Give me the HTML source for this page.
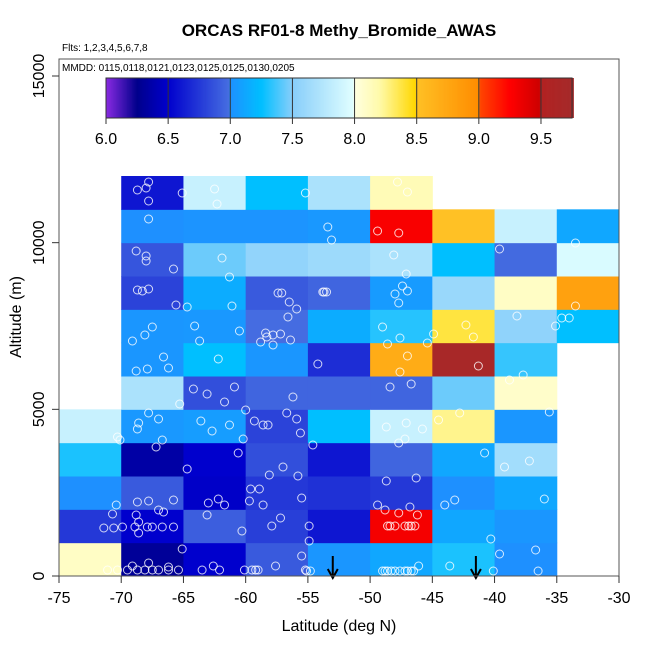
<!DOCTYPE html>
<html><head><meta charset="utf-8"><style>
body{margin:0;background:#fff}
svg{display:block;font-family:"Liberation Sans",sans-serif}
</style></head><body>
<svg id="chart" width="650" height="650" viewBox="0 0 650 650" xmlns="http://www.w3.org/2000/svg">
<text x="339" y="36" text-anchor="middle" font-size="17" font-weight="bold">ORCAS RF01-8 Methy_Bromide_AWAS</text>
<text x="62" y="51" font-size="10">Flts: 1,2,3,4,5,6,7,8</text>
<text x="62" y="71" font-size="10">MMDD: 0115,0118,0121,0123,0125,0125,0130,0205</text>
<g id="cells"></g><g id="pts"></g><g id="cbar"></g><g id="axes"></g>
<text x="339" y="631" text-anchor="middle" font-size="16">Latitude (deg N)</text>
<text transform="translate(21,317) rotate(-90)" text-anchor="middle" font-size="16">Altitude (m)</text>
</svg>
<script>
const latBins=[-75,-70,-65,-60,-55,-50,-45,-40,-35];
const altBins=[0,1000,2000,3000,4000,5000,6000,7000,8000,9000,10000,11000];
// values per latitude column, rows from 0 m upward (null = no data)
const col0=[8.1,6.75,7.0,7.3,7.85,null,null,null,null,null,null,null];
const col1=[6.3,6.5,6.9,6.35,7.04,7.7,7.03,7.03,6.8,6.88,7.0,6.6];
const col2=[6.5,6.92,6.48,6.5,7.07,6.85,7.25,7.04,7.15,7.45,7.02,7.85];
const col3=[6.9,6.78,6.75,6.85,6.8,6.95,7.03,6.98,6.9,7.56,7.02,7.25];
const col4=[7.03,6.6,6.72,6.6,7.25,6.95,6.7,7.15,6.95,7.62,7.04,7.7];
const col5=[7.12,9.3,6.75,6.95,7.85,6.95,8.7,7.32,7.06,7.7,9.28,8.15];
const col6=[7.3,7.12,7.0,7.12,8.25,7.45,9.7,8.38,7.6,7.25,8.5,null];
const col7=[7.0,7.03,7.12,7.65,7.03,8.08,7.35,7.55,8.1,6.97,7.85,null];
const col8=[null,null,null,null,null,null,null,7.25,8.8,7.95,7.12,null];
const cols=[col0,col1,col2,col3,col4,col5,col6,col7,col8];
const ptLat=[-68.7,-68.0,-67.8,-67.8,-65.1,-62.5,-62.3,-55.2,-67.8,-53.4,-53.1,-68.8,-68.0,-68.0,-65.8,-61.9,-61.3,-68.7,-68.3,-67.8,-65.6,-64.7,-61.1,-57.4,-57.1,-56.5,-55.9,-56.6,-53.8,-53.5,-67.5,-68.1,-69.1,-64.1,-63.7,-60.5,-58.4,-58.3,-58.8,-57.8,-57.2,-56.4,-57.8,-66.6,-66.2,-67.9,-68.8,-62.2,-54.2,-64.2,-63.1,-60.9,-61.7,-56.2,-65.3,-60.0,-67.8,-68.6,-68.7,-67.0,-63.6,-62.7,-61.3,-60.2,-56.7,-55.9,-59.3,-58.6,-58.2,-55.6,-70.3,-70.1,-66.7,-67.2,-60.6,-54.6,-64.7,-57.0,-58.1,-55.8,-59.6,-58.9,-59.7,-58.6,-55.5,-63.0,-62.2,-61.7,-68.7,-67.8,-65.8,-70.4,-70.7,-67.0,-66.6,-63.1,-68.8,-68.6,-68.6,-71.4,-70.6,-69.9,-68.9,-67.9,-67.5,-66.7,-65.8,-60.3,-57.2,-57.9,-54.9,-54.9,-65.1,-55.5,-62.6,-57.6,-67.8,-66.2,-69.1,-71.1,-70.3,-69.5,-68.7,-68.1,-67.5,-67.0,-66.2,-65.4,-63.5,-62.1,-60.1,-59.5,-59.2,-59.0,-55.2,
-47.8,-47.0,-49.4,-47.7,-39.6,-33.5,-48.1,-47.1,-53.7,-47.4,-48.0,-47.0,-47.7,-33.5,-49.0,-47.6,-48.6,-45.4,-44.9,-42.3,-41.7,-38.2,-35.1,-34.6,-34.0,-47.0,-47.6,-41.3,-38.8,-37.7,-48.4,-46.7,-42.8,-44.5,-35.6,-48.7,-47.1,-45.8,-47.2,-47.7,-40.8,-39.2,-37.2,-48.7,-46.3,-44.0,-43.2,-36.0,-49.4,-48.8,-47.7,-46.8,-46.2,-48.6,-48.4,-48.0,-47.2,-46.9,-46.7,-46.4,-40.3,-39.6,-36.7,-43.6,-46.1,-40.1,-36.5,-49.0,-48.8,-48.6,-48.3,-48.0,-47.6,-47.2,-47.0,-46.7,-46.5,-55.1,-54.8];
const ptAlt=[11580,11640,11820,11250,11490,11610,11160,11490,10710,10470,10080,9750,9600,9450,9210,9540,8970,8580,8550,8610,8130,8070,8100,8490,8490,8220,8010,7770,8520,8520,7470,7230,7050,7500,7050,7350,7290,7170,7020,7230,7260,7080,6930,6570,6240,6210,6150,6510,6360,5610,5460,5670,5220,5370,5160,4980,4890,4590,4410,4710,4650,4350,4530,4110,4890,4710,4650,4530,4530,4290,4170,4080,4080,3870,3690,3930,3210,3270,3030,3000,2610,2610,2250,2130,2340,2190,2310,2130,2220,2250,2280,2130,1860,1980,1920,1830,1830,1620,1290,1440,1440,1470,1470,1470,1470,1470,1470,1350,1740,1500,1500,1050,810,600,300,300,390,270,300,180,180,180,180,180,180,180,180,180,180,180,180,180,180,180,180,
11820,11520,10350,10290,9810,9990,9630,9060,8520,8700,8460,8550,8190,8100,7470,7140,6960,6990,7260,7530,7170,7800,7500,7740,7740,6600,6120,6300,5880,6030,5670,5760,4890,4680,4920,4470,4590,4410,4110,3990,3690,3270,3450,2850,2940,2130,2280,2310,2130,1980,1890,2070,1830,1500,1500,1500,1500,1500,1500,1500,1110,660,780,300,300,150,150,150,150,150,150,150,150,150,150,150,150,150,150];
const arrowLats=[-53,-41.5];
const xTicks=[-75,-70,-65,-60,-55,-50,-45,-40,-35,-30];
const yTicks=[0,5000,10000,15000];
const cbTicks=[6.0,6.5,7.0,7.5,8.0,8.5,9.0,9.5];

const NS="http://www.w3.org/2000/svg";
const X0=59,X1=619,Y0=576,YT=59;
const xs=v=>X0+(v+75)/45*(X1-X0);
const ys=v=>Y0-v*(Y0-76)/15000;
const cx=v=>106+(v-6)/0.5*62.14;
function mk(tag,a,p){const e=document.createElementNS(NS,tag);for(const k in a)e.setAttribute(k,a[k]);p.appendChild(e);return e;}
const stops=[[6.0,[138,43,226]],[6.25,[0,0,139]],[6.5,[0,0,205]],[6.99,[70,110,225]],[7.0,[30,144,255]],[7.25,[0,191,255]],[7.5,[135,206,250]],[7.99,[224,255,255]],[8.0,[255,255,224]],[8.2,[255,250,170]],[8.49,[255,215,0]],[8.5,[255,193,37]],[9.0,[255,140,0]],[9.01,[255,69,0]],[9.25,[255,0,0]],[9.49,[205,0,0]],[9.5,[178,34,34]],[9.75,[165,42,42]]];
function cmap(v){if(v<=stops[0][0])return 'rgb('+stops[0][1]+')';
for(let i=1;i<stops.length;i++){if(v<=stops[i][0]){const[a,c1]=stops[i-1],[b,c2]=stops[i];const t=(v-a)/(b-a);return 'rgb('+c1.map((c,j)=>Math.round(c+(c2[j]-c)*t)).join(',')+')';}}
return 'rgb('+stops[stops.length-1][1]+')';}

const gc=document.getElementById('cells');
cols.forEach((col,i)=>col.forEach((v,j)=>{if(v==null)return;
const r=mk('rect',{x:xs(latBins[i]),y:ys(altBins[j]+1000),width:xs(latBins[i]+5)-xs(latBins[i])+0.5,height:ys(altBins[j])-ys(altBins[j]+1000)+0.5,fill:cmap(v)},gc);

}));
const gp=document.getElementById('pts');
ptLat.forEach((la,i)=>{const c=mk('circle',{cx:xs(la),cy:ys(ptAlt[i]),r:4,fill:'none',stroke:'rgba(255,255,255,0.8)','stroke-width':1},gp);

});
arrowLats.forEach(la=>{const g=mk('g',{},gp);


mk('line',{x1:xs(la),y1:556,x2:xs(la),y2:577,stroke:'#000','stroke-width':2},g);
mk('path',{d:`M${xs(la)-5},569 L${xs(la)},578 L${xs(la)+5},569`,fill:'none',stroke:'#000','stroke-width':2},g);});

const gb=document.getElementById('cbar');


for(let v=6;v<9.75;v+=0.01){mk('rect',{x:cx(v),y:78,width:cx(v+0.01)-cx(v)+0.6,height:40,fill:cmap(v+0.005)},gb);}
mk('rect',{x:106,y:78,width:cx(9.75)-106,height:40,fill:'none',stroke:'#333','stroke-width':1},gb);
cbTicks.forEach(t=>{mk('line',{x1:cx(t),y1:78,x2:cx(t),y2:124,stroke:'#333','stroke-width':1},gb);
const tx=mk('text',{x:cx(t),y:144,'text-anchor':'middle','font-size':16},gb);tx.textContent=t.toFixed(1);

});

const ga=document.getElementById('axes');
mk('rect',{x:X0,y:YT,width:X1-X0,height:Y0-YT,fill:'none',stroke:'#555','stroke-width':1},ga);
xTicks.forEach(t=>{mk('line',{x1:xs(t),y1:Y0,x2:xs(t),y2:Y0+7,stroke:'#333'},ga);
const tx=mk('text',{x:xs(t),y:603,'text-anchor':'middle','font-size':16},ga);tx.textContent=t;

});
yTicks.forEach(t=>{mk('line',{x1:X0-7,y1:ys(t),x2:X0,y2:ys(t),stroke:'#333'},ga);
const tx=mk('text',{transform:`translate(44,${ys(t)}) rotate(-90)`,'text-anchor':'middle','font-size':16},ga);tx.textContent=t;

});
</script>
</body></html>
